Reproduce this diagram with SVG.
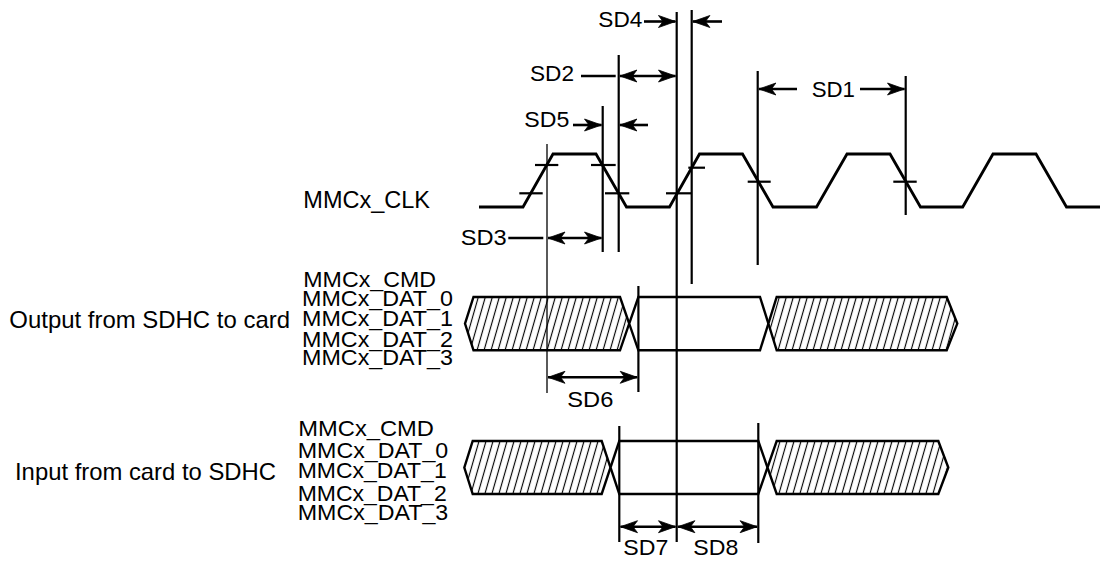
<svg xmlns="http://www.w3.org/2000/svg" width="1102" height="567" viewBox="0 0 1102 567">
<style>
text{font-family:"Liberation Sans",Arial,sans-serif;fill:#000;}
.lb{font-size:22px;}
.big{font-size:24px;}
.w{fill:none;stroke:#000;stroke-width:2.8;stroke-linejoin:miter;}
.bus{stroke:#000;stroke-width:2.4;stroke-linejoin:miter;}
.v{stroke:#000;stroke-width:2.2;fill:none;}
.vt{stroke:#000;stroke-width:1.3;fill:none;}
.tk{stroke:#000;stroke-width:2.2;}
.ar{stroke:#000;stroke-width:2.6;fill:none;}
.ae{marker-end:url(#ah);}
.ad{marker-end:url(#ah);marker-start:url(#ahs);}
</style>
<defs>
<marker id="ah" markerUnits="userSpaceOnUse" markerWidth="20" markerHeight="14" refX="17" refY="7" orient="auto" overflow="visible">
<path d="M0,1 L17,7 L0,13 L4.5,7 z" fill="#000" stroke="#000" stroke-width="0.8" stroke-linejoin="miter"/>
</marker>
<marker id="ahs" markerUnits="userSpaceOnUse" markerWidth="20" markerHeight="14" refX="1" refY="7" orient="auto" overflow="visible">
<path d="M18,1 L1,7 L18,13 L13.5,7 z" fill="#000" stroke="#000" stroke-width="0.8" stroke-linejoin="miter"/>
</marker>
<pattern id="hatch" patternUnits="userSpaceOnUse" width="7" height="10" patternTransform="skewX(-16)">
<rect width="7" height="10" fill="#fff"/>
<line x1="3.5" y1="-1" x2="3.5" y2="11" stroke="#000" stroke-width="1.2"/>
</pattern>
</defs>

<g id="labels">
<text class="lb" x="303.3" y="208.3" style="font-size:23px" textLength="126.7" lengthAdjust="spacingAndGlyphs">MMCx_CLK</text>
<text class="big" x="9.3" y="328.3" textLength="280.7" lengthAdjust="spacingAndGlyphs">Output from SDHC to card</text>
<text class="big" x="15" y="480" textLength="261" lengthAdjust="spacingAndGlyphs">Input from card to SDHC</text>
<text class="lb" x="303.3" y="287" textLength="132.7" lengthAdjust="spacingAndGlyphs">MMCx_CMD</text>
<text class="lb" x="302" y="306.3" textLength="151" lengthAdjust="spacingAndGlyphs">MMCx_DAT_0</text>
<text class="lb" x="302" y="326" textLength="151" lengthAdjust="spacingAndGlyphs">MMCx_DAT_1</text>
<text class="lb" x="302" y="347" textLength="151" lengthAdjust="spacingAndGlyphs">MMCx_DAT_2</text>
<text class="lb" x="302" y="365.3" textLength="151" lengthAdjust="spacingAndGlyphs">MMCx_DAT_3</text>
<text class="lb" x="298.3" y="436" textLength="135.7" lengthAdjust="spacingAndGlyphs">MMCx_CMD</text>
<text class="lb" x="297.7" y="457.7" textLength="150.6" lengthAdjust="spacingAndGlyphs">MMCx_DAT_0</text>
<text class="lb" x="297.7" y="478.3" textLength="149" lengthAdjust="spacingAndGlyphs">MMCx_DAT_1</text>
<text class="lb" x="297.7" y="500.7" textLength="149" lengthAdjust="spacingAndGlyphs">MMCx_DAT_2</text>
<text class="lb" x="297.7" y="520" textLength="150.6" lengthAdjust="spacingAndGlyphs">MMCx_DAT_3</text>
<text class="lb" x="598.3" y="26.7" textLength="44" lengthAdjust="spacingAndGlyphs">SD4</text>
<text class="lb" x="530" y="81" textLength="44" lengthAdjust="spacingAndGlyphs">SD2</text>
<text class="lb" x="524.3" y="126.7" textLength="45" lengthAdjust="spacingAndGlyphs">SD5</text>
<text class="lb" x="811.7" y="96.7" textLength="43.3" lengthAdjust="spacingAndGlyphs">SD1</text>
<text class="lb" x="460.7" y="245" textLength="46" lengthAdjust="spacingAndGlyphs">SD3</text>
<text class="lb" x="567.3" y="406.7" textLength="46" lengthAdjust="spacingAndGlyphs">SD6</text>
<text class="lb" x="623.3" y="555" textLength="45" lengthAdjust="spacingAndGlyphs">SD7</text>
<text class="lb" x="693.3" y="555" textLength="45" lengthAdjust="spacingAndGlyphs">SD8</text>
</g>

<g id="clk">
<polyline class="w" points="479,207 523,207 553,154 596,154 626.5,207 669.5,207 699.5,154 742.5,154 773,207 816.5,207 847,154 890,154 920.5,207 962.7,207 993,154 1036,154 1066.5,207 1100,207"/>
<g class="tk">
<line x1="519.3" y1="193.3" x2="542.7" y2="193.3"/>
<line x1="535" y1="165" x2="558.3" y2="165"/>
<line x1="591" y1="165" x2="615.7" y2="165"/>
<line x1="605" y1="193.3" x2="629.3" y2="193.3"/>
<line x1="666" y1="193.3" x2="691.7" y2="193.3"/>
<line x1="688.3" y1="167.7" x2="705" y2="167.7"/>
<line x1="747.7" y1="181.7" x2="770.7" y2="181.7"/>
<line x1="893.3" y1="181.7" x2="916.7" y2="181.7"/>
</g>
</g>

<g id="bus-out">
<polygon class="bus" fill="url(#hatch)" points="465,323.6 473.5,297 620,297 629.2,323.6 620,350.3 473.5,350.3"/>
<polygon class="bus" fill="#fff" points="629.2,323.6 638.4,297 760,297 768.4,323.6 760,350.3 638.4,350.3"/>
<polygon class="bus" fill="url(#hatch)" points="768.4,323.6 776.7,297 946.7,297 957.3,323.6 946.7,350.3 776.7,350.3"/>
</g>

<g id="bus-in">
<polygon class="bus" fill="url(#hatch)" points="464.3,467.5 472.7,441 601.7,441 610.5,467.5 601.7,494 472.7,494"/>
<polygon class="bus" fill="#fff" points="610.5,467.5 619.3,441 758.3,441 767.5,467.5 758.3,494 619.3,494"/>
<polygon class="bus" fill="url(#hatch)" points="767.5,467.5 776.7,441 938.3,441 948.3,467.5 938.3,494 776.7,494"/>
</g>

<g id="connectors">
<line class="vt" x1="547" y1="144" x2="547" y2="393"/>
<line class="v" x1="602.7" y1="106" x2="602.7" y2="252"/>
<line class="v" x1="618.7" y1="55" x2="618.7" y2="252"/>
<line class="v" x1="676.7" y1="12" x2="676.7" y2="542"/>
<line class="v" x1="691.7" y1="10" x2="691.7" y2="284"/>
<line class="v" x1="757.7" y1="71" x2="757.7" y2="265"/>
<line class="v" x1="905.7" y1="76" x2="905.7" y2="215"/>
<line class="v" x1="638.4" y1="286" x2="638.4" y2="392"/>
<line class="v" x1="619.3" y1="426" x2="619.3" y2="542"/>
<line class="v" x1="758.3" y1="423" x2="758.3" y2="543"/>

<line class="ar ae" x1="644" y1="21.5" x2="675.5" y2="21.5"/>
<line class="ar ae" x1="722" y1="21.5" x2="692.9" y2="21.5"/>
<line class="ar" x1="581" y1="76" x2="615.7" y2="76"/>
<line class="ar ad" x1="619.9" y1="76" x2="675.5" y2="76"/>
<line class="ar ae" x1="573" y1="125" x2="601.5" y2="125"/>
<line class="ar ae" x1="648" y1="125" x2="619.9" y2="125"/>
<line class="ar ae" x1="797" y1="89" x2="758.9" y2="89"/>
<line class="ar ae" x1="860" y1="89" x2="904.5" y2="89"/>
<line class="ar" x1="508.3" y1="238" x2="543.3" y2="238"/>
<line class="ar ad" x1="548" y1="238" x2="601.5" y2="238"/>
<line class="ar ad" x1="548" y1="377.3" x2="637.2" y2="377.3"/>
<line class="ar ad" x1="620.5" y1="526.7" x2="675.5" y2="526.7"/>
<line class="ar ad" x1="677.9" y1="526.7" x2="757.1" y2="526.7"/>
</g>
</svg>
